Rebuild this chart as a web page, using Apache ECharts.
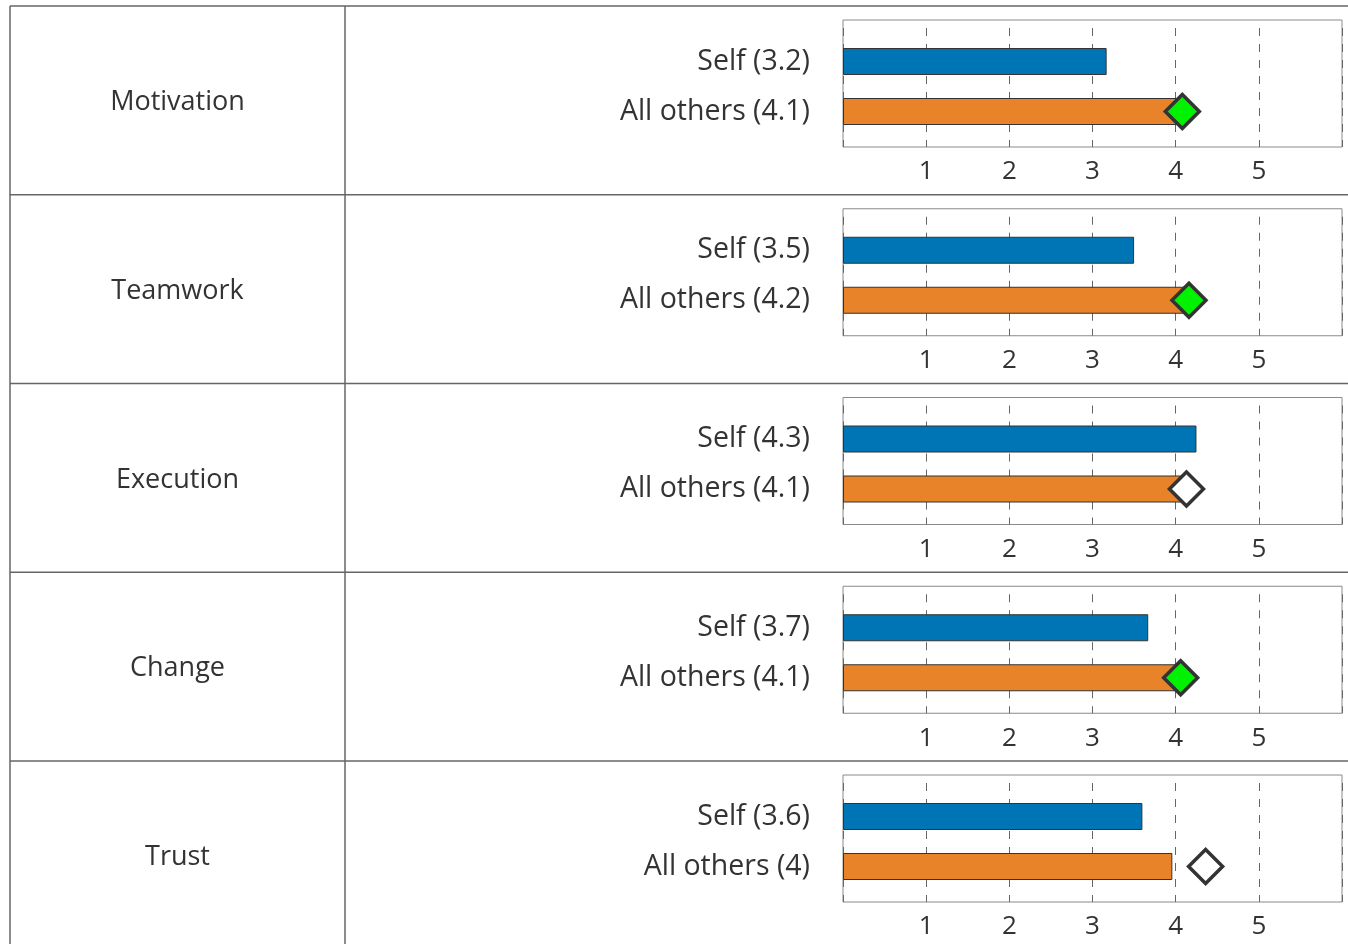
<!DOCTYPE html>
<html>
<head>
<meta charset="utf-8">
<script src="https://cdn.jsdelivr.net/npm/echarts@6/dist/echarts.min.js"></script>
<style>
  html, body { margin: 0; padding: 0; background: #fff; }
  #chart { width: 1348px; height: 944px; }
</style>
</head>
<body>
<div id="chart"></div>
<script>
// data
const categories = ['Motivation', 'Teamwork', 'Execution', 'Change', 'Trust'];
const selfScores = [3.17, 3.5, 4.25, 3.67, 3.6];
const othersScores = [4.06, 4.15, 4.1, 4.06, 3.96];
const markerScores = [4.08, 4.16, 4.13, 4.06, 4.36];
const markerHighlight = [true, true, false, true, false];
const tickLabels = ['1', '2', '3', '4', '5'];

const FONT = '"Open Sans", sans-serif';
const TEXT = '#333';
const ROW_TOP = 6;
const ROW_H = 188.75;
const BOX_LEFT = 843;
const BOX_W = 499;
const BOX_H = 127;

const fmt = v => String(Math.round(v * 10) / 10);

const chart = echarts.init(document.getElementById('chart'));

const grids = [];
const xAxes = [];
const yAxes = [];
const series = [];
const graphics = [];

categories.forEach((name, i) => {
  const rowTop = ROW_TOP + i * ROW_H;
  const boxTop = rowTop + 14;
  const labels = ['Self (' + fmt(selfScores[i]) + ')', 'All others (' + fmt(othersScores[i]) + ')'];

  // frame grid: border, dashed grid lines, tick labels
  grids.push({
    left: BOX_LEFT, top: boxTop, width: BOX_W, height: BOX_H,
    show: true, borderColor: '#8a8a8a', borderWidth: 1, backgroundColor: '#fff'
  });
  xAxes.push({
    gridIndex: 2 * i, type: 'value', min: 0, max: 6, interval: 1,
    axisLine: { show: false }, axisTick: { show: false },
    axisLabel: {
      color: TEXT, fontFamily: FONT, fontSize: 26, margin: 12,
      formatter: v => (v >= 1 && v <= 5 ? tickLabels[v - 1] : '')
    },
    splitLine: { show: true, lineStyle: { color: '#666', width: 1, type: [8, 8], dashOffset: 8 } }
  });
  yAxes.push({ gridIndex: 2 * i, type: 'value', show: false, min: 0, max: 1 });

  // bar grid
  grids.push({ left: BOX_LEFT, top: boxTop + 16.5, width: BOX_W, height: 100 });
  xAxes.push({ gridIndex: 2 * i + 1, type: 'value', min: 0, max: 6, show: false });
  yAxes.push({
    gridIndex: 2 * i + 1, type: 'category', inverse: true, data: labels,
    axisLine: { show: false }, axisTick: { show: false },
    axisLabel: { color: TEXT, fontFamily: FONT, fontSize: 28.5, margin: 33 }
  });

  series.push({
    type: 'bar', xAxisIndex: 2 * i + 1, yAxisIndex: 2 * i + 1,
    barWidth: 27, silent: true,
    data: [
      { value: selfScores[i], itemStyle: { color: '#0075b5' } },
      { value: othersScores[i], itemStyle: { color: '#e8832a' } }
    ],
    itemStyle: { borderColor: '#333', borderWidth: 1 }
  });
  series.push({
    type: 'scatter', xAxisIndex: 2 * i + 1, yAxisIndex: 2 * i + 1,
    symbol: 'diamond', symbolSize: [34, 34], silent: true, z: 5,
    data: [[markerScores[i], labels[1]]],
    itemStyle: {
      color: markerHighlight[i] ? '#00f200' : '#fff',
      borderColor: '#333', borderWidth: 3.5, opacity: 1
    }
  });

  // table row
  graphics.push({
    type: 'text', silent: true,
    style: {
      x: 177.5, y: rowTop + ROW_H / 2 + 2, text: name,
      align: 'center', verticalAlign: 'middle', fill: TEXT,
      font: '27px "Open Sans", sans-serif'
    }
  });
  graphics.push({
    type: 'line', silent: true,
    shape: { x1: 10, y1: rowTop, x2: 1348, y2: rowTop },
    style: { stroke: '#666', lineWidth: 1.5 }
  });
});

graphics.push({ type: 'line', shape: { x1: 10, y1: ROW_TOP, x2: 10, y2: 944 }, style: { stroke: '#666', lineWidth: 1.5 } });
graphics.push({ type: 'line', shape: { x1: 345, y1: ROW_TOP, x2: 345, y2: 944 }, style: { stroke: '#666', lineWidth: 1.5 } });

chart.setOption({
  animation: false,
  grid: grids,
  xAxis: xAxes,
  yAxis: yAxes,
  series: series,
  graphic: graphics
});
</script>
</body>
</html>
